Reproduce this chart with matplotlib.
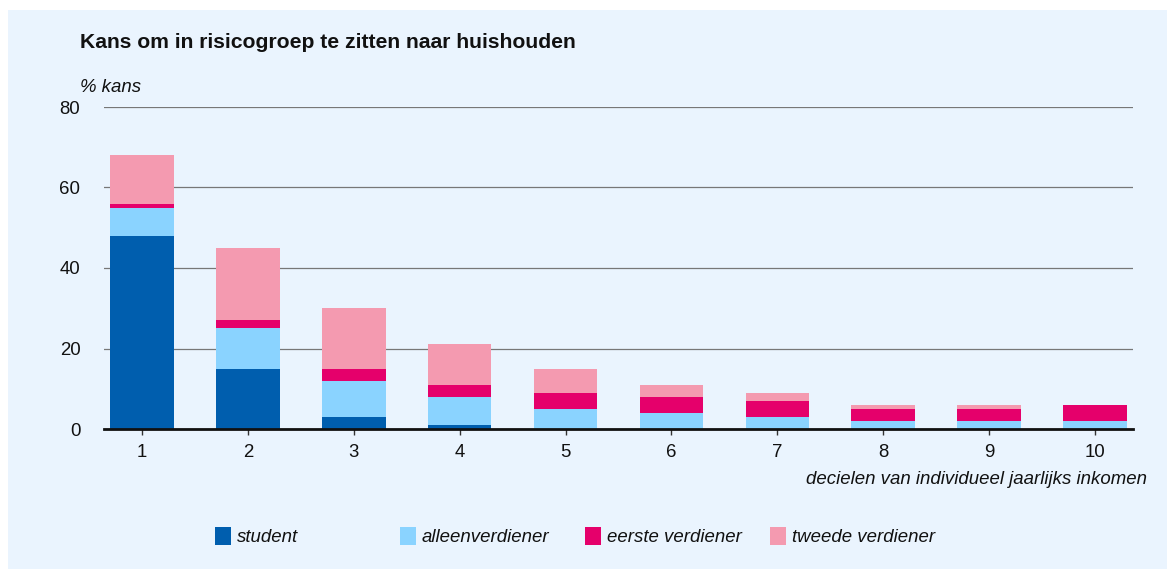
import matplotlib
matplotlib.use("Agg")
import matplotlib.pyplot as plt
from matplotlib.patches import Rectangle
import numpy as np

plt.rcParams['font.family'] = ['Liberation Sans', 'DejaVu Sans']

deciles = ['1', '2', '3', '4', '5', '6', '7', '8', '9', '10']
series_names = ['student', 'alleenverdiener', 'eerste verdiener', 'tweede verdiener']
student = [48, 15, 3, 1, 0, 0, 0, 0, 0, 0]
alleenverdiener = [7, 10, 9, 7, 5, 4, 3, 2, 2, 2]
eerste_verdiener = [1, 2, 3, 3, 4, 4, 4, 3, 3, 4]
tweede_verdiener = [12, 18, 15, 10, 6, 3, 2, 1, 1, 0]
colors = ['#005EAE', '#8AD3FF', '#E5006B', '#F49AB0']
yticks = [0, 20, 40, 60, 80]

bg = '#EAF4FE'
W, H = 1167, 569
fs = 13.4
fig = plt.figure(figsize=(W / 100, H / 100), dpi=100, facecolor='white')
fig.add_artist(Rectangle((8 / W, 0), 1 - 8 / W, 1 - 10 / H, transform=fig.transFigure,
                         facecolor=bg, edgecolor='none', zorder=0))
ax = fig.add_axes([104 / W, 1 - 429 / H, (1133 - 104) / W, (429 - 107) / H])
ax.set_facecolor(bg)

x = np.arange(1, len(deciles) + 1)
bottom = np.zeros(len(deciles))
for vals, c in zip([student, alleenverdiener, eerste_verdiener, tweede_verdiener], colors):
    ax.bar(x, vals, width=0.6, bottom=bottom, color=c, zorder=3, edgecolor='none')
    bottom += np.array(vals)

ax.set_xlim(0.64, 10.36)
ax.set_ylim(0, 80)
ax.set_yticks(yticks)
ax.set_yticklabels([str(v) for v in yticks], fontsize=fs, color='#111111')
ax.set_xticks(x)
ax.set_xticklabels(deciles, fontsize=fs, color='#111111')
ax.grid(axis='y', color='#777777', linewidth=0.9, zorder=1)
for s in ['top', 'right', 'left']:
    ax.spines[s].set_visible(False)
ax.spines['bottom'].set_color('#111111')
ax.spines['bottom'].set_linewidth(2)
ax.spines['bottom'].set_zorder(4)
ax.tick_params(axis='y', length=0, pad=17)
ax.tick_params(axis='x', length=4, width=1, color='#333333', pad=7)

fig.text(80 / W, 1 - 43 / H, 'Kans om in risicogroep te zitten naar huishouden',
         fontsize=15.2, fontweight='bold', ha='left', va='center', color='#111111')
fig.text(80 / W, 1 - 88 / H, '% kans', fontsize=fs, style='italic',
         ha='left', va='center', color='#111111')
fig.text(1147 / W, 1 - 479 / H, 'decielen van individueel jaarlijks inkomen',
         fontsize=fs, style='italic', ha='right', va='center', color='#111111')

leg_x = [215, 400, 585, 770]
for lx, name, c in zip(leg_x, series_names, colors):
    fig.add_artist(Rectangle((lx / W, 1 - 545 / H), 16 / W, 18 / H,
                             transform=fig.transFigure, facecolor=c, edgecolor='none'))
    fig.text((lx + 22) / W, 1 - 537 / H, name, fontsize=fs, style='italic',
             ha='left', va='center', color='#111111')

fig.savefig('out.png', dpi=100, facecolor='white')
